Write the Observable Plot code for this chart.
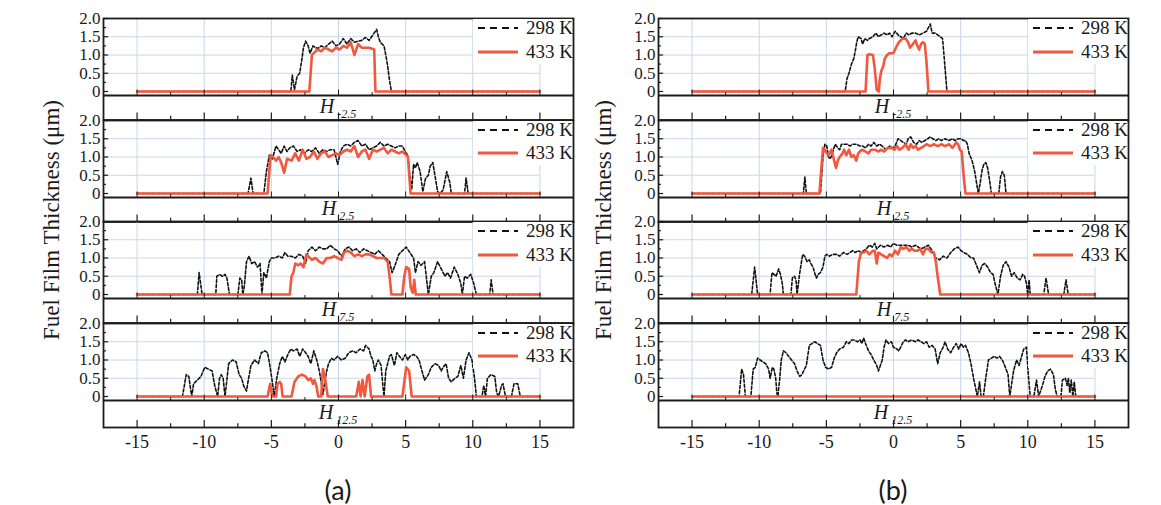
<!DOCTYPE html>
<html><head><meta charset="utf-8">
<script src="https://cdn.jsdelivr.net/npm/d3@7"></script>
<script src="https://cdn.jsdelivr.net/npm/@observablehq/plot@0.6"></script>
<style>
body{margin:0;background:#fff;}
#root{position:relative;width:1161px;height:505px;overflow:hidden;font-family:"Liberation Serif","Times New Roman","DejaVu Serif",serif;color:#1a1a1a;}
.abs{position:absolute;}
svg text{font-family:"Liberation Serif","Times New Roman","DejaVu Serif",serif !important;}
</style></head><body><div id="root"></div>
<script>
// ---------- DATA: [x position, fuel film thickness (µm)] ----------
// panel (a)
const a1_298 = [[-15,0],[-3.55,0],[-3.44,0.45],[-3.28,0.05],[-3.08,0.42],[-2.89,0.5],[-2.72,0.9],[-2.61,1.2],[-2.45,1.38],[-2.26,1.25],[-2.12,1.05],[-1.90,1.25],[-1.71,1.2],[-1.51,1.18],[-1.29,1.25],[-1.02,1.2],[-0.74,1.3],[-0.47,1.38],[-0.19,1.25],[0.08,1.3],[0.36,1.45],[0.63,1.3],[0.91,1.45],[1.18,1.35],[1.46,1.38],[1.73,1.4],[2.01,1.48],[2.28,1.4],[2.56,1.55],[2.84,1.7],[2.97,1.5],[3.11,1.35],[3.39,1.25],[3.52,1.0],[3.66,0.7],[3.80,0.3],[3.94,0],[15,0]];
const a1_433 = [[-15,0],[-2.17,0],[-1.98,1.0],[-1.84,1.05],[-1.57,1.15],[-1.29,1.1],[-1.02,1.2],[-0.74,1.15],[-0.47,1.1],[-0.19,1.2],[0.08,1.15],[0.36,1.25],[0.63,1.2],[0.91,1.35],[1.18,1.0],[1.46,1.3],[1.73,1.2],[2.28,1.2],[2.66,1.15],[2.75,0],[15,0]];
const a2_298 = [[-15,0],[-6.74,0],[-6.52,0.42],[-6.36,0],[-5.56,0],[-5.37,0.6],[-5.15,1.05],[-4.93,0.95],[-4.65,1.3],[-4.46,1.2],[-4.27,1.1],[-4.05,1.3],[-3.83,1.15],[-3.63,1.25],[-3.36,1.3],[-3.08,1.15],[-2.81,1.2],[-2.53,1.1],[-2.26,1.2],[-1.98,1.15],[-1.71,1.25],[-1.43,1.1],[-1.16,1.2],[-0.88,1.15],[-0.61,1.2],[-0.33,1.2],[-0.06,0.8],[0.14,1.15],[0.36,1.3],[0.63,1.35],[0.91,1.3],[1.18,1.4],[1.46,1.45],[1.73,1.3],[2.01,1.35],[2.28,1.2],[2.56,1.25],[2.84,1.3],[3.11,1.4],[3.39,1.3],[3.66,1.35],[3.94,1.3],[4.21,1.25],[4.49,1.3],[4.76,1.3],[5.04,1.1],[5.17,1.05],[5.31,0.5],[5.45,0.1],[5.59,0.8],[5.73,0.7],[5.86,0.85],[6.08,0.6],[6.28,0.05],[6.47,0.4],[6.69,0.5],[6.83,0.75],[7.02,0.85],[7.18,0.5],[7.38,0.05],[7.57,0],[7.79,0.1],[8.06,0.6],[8.29,0.3],[8.40,0],[9.39,0],[9.50,0.42],[9.66,0],[15,0]];
const a2_433 = [[-15,0],[-5.28,0],[-5.06,1.05],[-4.87,1.0],[-4.65,0.9],[-4.46,1.0],[-4.27,0.85],[-4.05,0.57],[-3.83,0.95],[-3.50,0.9],[-3.22,1.1],[-2.95,0.9],[-2.67,1.2],[-2.39,0.95],[-2.12,1.0],[-1.84,1.15],[-1.57,0.95],[-1.29,1.1],[-1.02,1.15],[-0.74,1.0],[-0.47,1.05],[-0.19,1.1],[0.08,1.05],[0.36,1.15],[0.63,1.2],[0.91,1.15],[1.18,1.3],[1.46,1.0],[1.73,1.15],[2.01,1.2],[2.28,0.95],[2.56,1.2],[2.84,1.15],[3.11,1.2],[3.39,1.25],[3.66,1.1],[3.94,1.2],[4.21,1.15],[4.49,1.1],[4.76,1.15],[5.04,1.05],[5.17,1.0],[5.37,0],[15,0]];
const a3_298 = [[-15,0],[-10.51,0],[-10.38,0.6],[-10.16,0],[-9.14,0],[-9.06,0.5],[-8.86,0.55],[-8.64,0.5],[-8.45,0.55],[-8.31,0.45],[-8.12,0],[-7.49,0],[-7.35,0.45],[-7.21,0.4],[-7.13,0],[-7.02,0.2],[-6.85,0.9],[-6.66,1.05],[-6.47,0.85],[-6.25,0.9],[-6.03,0.75],[-5.84,0.85],[-5.70,0],[-5.56,0.6],[-5.37,0.45],[-5.15,0.9],[-5.01,1.0],[-4.73,1.0],[-4.46,1.05],[-4.18,1.0],[-3.99,1.15],[-3.77,1.05],[-3.50,1.05],[-3.22,1.0],[-2.95,1.1],[-2.67,1.05],[-2.45,0.85],[-2.26,1.2],[-1.98,1.3],[-1.71,1.2],[-1.43,1.3],[-1.16,1.25],[-0.88,1.25],[-0.61,1.35],[-0.33,1.25],[-0.06,1.2],[0.22,1.05],[0.50,1.25],[0.77,1.3],[1.05,1.2],[1.32,1.25],[1.60,1.15],[1.87,1.25],[2.15,1.2],[2.42,1.15],[2.70,1.1],[2.97,1.2],[3.25,1.1],[3.52,1.0],[3.80,0.9],[3.99,0.6],[4.21,0.8],[4.49,1.1],[4.76,1.2],[5.04,1.3],[5.31,1.15],[5.59,1.0],[5.73,0.6],[5.92,0.9],[6.14,0.8],[6.41,0.9],[6.69,0],[6.91,0.5],[7.10,0.6],[7.38,0.9],[7.65,0.7],[7.93,0.5],[8.12,0.6],[8.34,0.45],[8.62,0.75],[8.89,0.55],[9.11,0.3],[9.22,0],[9.39,0.5],[9.58,0.45],[9.85,0.55],[10.07,0.3],[10.27,0],[11.26,0],[11.37,0.4],[11.51,0],[15,0]];
const a3_433 = [[-15,0],[-3.63,0],[-3.50,0.5],[-3.36,0.6],[-3.22,0.85],[-3.00,0.8],[-2.81,0.85],[-2.61,0.75],[-2.39,1.1],[-2.26,1.05],[-1.98,0.95],[-1.71,1.0],[-1.43,0.9],[-1.16,0.85],[-0.88,1.0],[-0.61,1.0],[-0.33,1.05],[-0.06,1.0],[0.22,0.95],[0.41,1.15],[0.63,1.2],[0.91,1.15],[1.18,1.05],[1.46,1.1],[1.73,1.05],[2.01,1.1],[2.28,1.1],[2.56,1.05],[2.84,1.0],[3.11,1.0],[3.39,1.0],[3.66,0.9],[3.80,0.5],[3.94,0],[4.76,0],[4.90,0.5],[5.04,0.75],[5.26,0.7],[5.37,0.2],[5.53,0.05],[5.64,0.4],[5.75,0],[15,0]];
const a4_298 = [[-15,0],[-11.62,0],[-11.34,0.6],[-11.15,0.55],[-10.93,0],[-10.79,0.35],[-10.51,0.45],[-10.24,0.55],[-9.96,0.8],[-9.69,0.75],[-9.41,0.7],[-9.22,0.3],[-9.00,0],[-8.86,0.5],[-8.73,0.6],[-8.59,0.5],[-8.45,0],[-8.18,0.9],[-7.90,1.0],[-7.62,0.95],[-7.40,0.6],[-7.21,0.5],[-7.07,0.3],[-6.85,0.15],[-6.74,0.4],[-6.52,0.85],[-6.25,1.0],[-5.97,0.9],[-5.75,1.2],[-5.48,1.25],[-5.28,1.2],[-5.09,0.8],[-4.93,0.4],[-4.79,0],[-4.60,0.5],[-4.38,0.9],[-4.18,1.1],[-3.99,0.95],[-3.77,1.15],[-3.55,1.3],[-3.36,1.25],[-3.08,1.3],[-2.89,1.1],[-2.67,1.3],[-2.45,1.2],[-2.26,1.1],[-2.06,0.9],[-1.84,1.25],[-1.62,1.0],[-1.43,0.7],[-1.29,0.4],[-1.16,0.05],[-1.02,0.4],[-0.88,0.7],[-0.74,0.9],[-0.52,1.05],[-0.33,1.0],[-0.06,1.1],[0.22,1.0],[0.50,1.05],[0.77,1.2],[1.05,1.25],[1.32,1.2],[1.60,1.3],[1.87,1.25],[2.01,1.4],[2.28,1.3],[2.42,1.1],[2.56,1.0],[2.70,0.7],[2.84,0.9],[2.97,1.0],[3.17,0.85],[3.33,0.2],[3.39,0],[3.52,0.7],[3.80,1.1],[3.94,1.15],[4.16,0.85],[4.35,1.2],[4.54,1.1],[4.76,1.0],[4.98,1.15],[5.17,1.0],[5.31,1.1],[5.59,1.15],[5.81,1.1],[6.00,1.0],[6.14,0.8],[6.41,0.45],[6.69,0.6],[6.91,0.8],[7.18,0.9],[7.46,0.85],[7.65,0.7],[7.79,0.8],[8.01,0.9],[8.20,0.5],[8.40,0.4],[8.67,0.5],[8.89,0.55],[9.11,0.85],[9.30,0.5],[9.50,1.0],[9.72,1.2],[9.94,1.0],[10.13,0.5],[10.27,0],[10.68,0],[10.82,0.3],[10.95,0],[11.09,0.5],[11.37,0.6],[11.64,0.55],[11.78,0.1],[11.92,0],[12.14,0.3],[12.25,0.35],[12.41,0.05],[12.55,0],[12.88,0],[13.07,0.35],[13.35,0.35],[13.51,0.05],[13.62,0],[15,0]];
const a4_433 = [[-15,0],[-5.28,0],[-5.09,0.35],[-4.93,0],[-4.65,0],[-4.54,0.35],[-4.38,0.4],[-4.27,0.35],[-4.16,0],[-3.50,0],[-3.28,0.4],[-3.00,0.55],[-2.72,0.6],[-2.45,0.55],[-2.26,0.45],[-2.06,0.5],[-1.90,0.35],[-1.79,0.45],[-1.65,0.3],[-1.51,0],[-1.29,0],[-1.16,0.75],[-1.02,0.55],[-0.80,0],[1.32,0],[1.51,0.4],[1.65,0],[1.79,0.45],[1.95,0],[2.15,0.55],[2.28,0.6],[2.42,0],[4.76,0],[5.04,0.8],[5.26,0.7],[5.45,0],[15,0]];
// panel (b)
const b1_298 = [[-15,0],[-3.60,0],[-3.46,0.35],[-3.32,0.5],[-3.13,0.75],[-2.96,0.9],[-2.85,1.1],[-2.74,1.35],[-2.63,1.5],[-2.41,1.45],[-2.30,1.3],[-2.14,1.45],[-1.94,1.4],[-1.80,1.45],[-1.53,1.5],[-1.31,1.6],[-1.12,1.5],[-0.92,1.55],[-0.70,1.6],[-0.48,1.55],[-0.29,1.6],[-0.10,1.5],[0.12,1.65],[0.34,1.55],[0.54,1.5],[0.73,1.45],[0.95,1.6],[1.17,1.55],[1.36,1.6],[1.64,1.6],[1.91,1.55],[2.19,1.6],[2.46,1.65],[2.60,1.75],[2.74,1.85],[2.88,1.6],[3.10,1.6],[3.29,1.55],[3.48,1.5],[3.65,1.45],[3.76,1.0],[3.87,0.5],[3.98,0],[15,0]];
const b1_433 = [[-15,0],[-2.08,0],[-1.94,1.0],[-1.80,1.02],[-1.53,1.0],[-1.39,0.6],[-1.25,0.05],[-1.09,0],[-1.03,0.3],[-0.92,0.55],[-0.76,0.7],[-0.65,0.9],[-0.48,1.0],[-0.29,1.05],[-0.01,1.05],[0.18,1.2],[0.40,1.35],[0.67,1.45],[0.90,1.45],[1.09,1.35],[1.23,1.2],[1.45,1.3],[1.64,1.4],[1.78,1.25],[1.91,1.15],[2.05,1.3],[2.19,1.35],[2.33,1.3],[2.46,0.8],[2.60,0],[15,0]];
const b2_298 = [[-15,0],[-6.71,0],[-6.60,0.45],[-6.49,0],[-5.44,0],[-5.25,1.0],[-5.11,1.35],[-4.97,1.3],[-4.84,1.0],[-4.70,0.95],[-4.56,1.1],[-4.34,1.35],[-4.15,1.25],[-4.01,1.2],[-3.87,1.35],[-3.68,1.35],[-3.46,1.35],[-3.24,1.3],[-3.04,1.35],[-2.77,1.35],[-2.49,1.3],[-2.30,1.3],[-2.08,1.25],[-1.86,1.35],[-1.67,1.3],[-1.47,1.4],[-1.25,1.3],[-1.03,1.35],[-0.84,1.3],[-0.56,1.2],[-0.29,1.3],[-0.01,1.25],[0.12,1.3],[0.34,1.5],[0.54,1.45],[0.73,1.4],[0.95,1.35],[1.09,1.5],[1.28,1.55],[1.50,1.4],[1.72,1.35],[1.91,1.45],[2.11,1.4],[2.33,1.45],[2.55,1.5],[2.74,1.55],[2.93,1.5],[3.15,1.45],[3.37,1.5],[3.57,1.45],[3.84,1.5],[4.12,1.45],[4.39,1.5],[4.59,1.45],[4.81,1.5],[5.03,1.5],[5.22,1.45],[5.36,1.45],[5.50,1.35],[5.63,1.1],[5.85,0.9],[6.05,0.6],[6.18,0.3],[6.32,0],[6.46,0.3],[6.60,0.65],[6.73,0.8],[6.87,0.85],[7.01,0.7],[7.18,0.3],[7.29,0],[7.84,0],[7.97,0.45],[8.11,0.6],[8.25,0.5],[8.38,0],[15,0]];
const b2_433 = [[-15,0],[-5.52,0],[-5.25,1.25],[-5.11,1.2],[-4.97,1.1],[-4.84,1.05],[-4.61,1.2],[-4.42,0.9],[-4.28,0.7],[-4.15,0.9],[-4.01,1.0],[-3.79,1.1],[-3.68,1.2],[-3.51,1.05],[-3.32,1.2],[-3.13,1.0],[-2.96,1.05],[-2.77,0.9],[-2.63,1.1],[-2.36,1.2],[-2.08,1.15],[-1.86,1.1],[-1.67,1.2],[-1.39,1.2],[-1.12,1.15],[-0.92,1.2],[-0.70,1.15],[-0.43,1.25],[-0.15,1.25],[0.07,1.2],[0.26,1.3],[0.45,1.2],[0.67,1.25],[0.90,1.35],[1.12,1.2],[1.28,1.35],[1.45,1.25],[1.64,1.3],[1.83,1.2],[2.05,1.25],[2.27,1.3],[2.46,1.35],[2.74,1.3],[3.01,1.35],[3.29,1.3],[3.57,1.35],[3.84,1.3],[4.12,1.35],[4.39,1.25],[4.67,1.4],[4.81,1.35],[4.94,1.2],[5.08,1.15],[5.22,0.5],[5.36,0],[15,0]];
const b3_298 = [[-15,0],[-10.56,0],[-10.34,0.75],[-10.12,0],[-9.19,0],[-9.05,0.6],[-8.91,0.55],[-8.75,0.5],[-8.55,0.7],[-8.42,0.55],[-8.28,0.3],[-8.20,0],[-7.64,0],[-7.53,0.45],[-7.37,0.5],[-7.26,0.4],[-7.18,0],[-6.98,0.6],[-6.76,1.1],[-6.62,1.05],[-6.43,0.9],[-6.27,0.95],[-6.16,0.85],[-5.99,0.75],[-5.88,0.6],[-5.74,0.45],[-5.61,0.55],[-5.44,0.6],[-5.25,0.75],[-5.11,1.05],[-4.97,1.1],[-4.78,1.05],[-4.50,1.1],[-4.23,1.1],[-4.01,1.05],[-3.73,1.15],[-3.46,1.1],[-3.24,1.15],[-3.04,1.2],[-2.85,1.15],[-2.63,1.2],[-2.41,1.15],[-2.22,1.2],[-2.02,1.25],[-1.80,1.35],[-1.58,1.3],[-1.39,1.4],[-1.25,1.25],[-0.98,1.35],[-0.70,1.3],[-0.43,1.35],[-0.21,1.3],[-0.01,1.4],[0.26,1.35],[0.54,1.35],[0.81,1.35],[1.09,1.35],[1.36,1.3],[1.64,1.35],[1.83,1.3],[2.05,1.25],[2.33,1.3],[2.60,1.35],[2.88,1.2],[3.15,1.0],[3.43,0.95],[3.70,1.05],[3.98,1.0],[4.26,1.15],[4.53,1.25],[4.81,1.3],[5.03,1.2],[5.22,1.15],[5.50,1.1],[5.77,1.0],[5.96,1.0],[6.18,0.8],[6.40,0.6],[6.60,0.8],[6.79,0.85],[7.01,0.75],[7.23,0.6],[7.42,0.55],[7.56,0.3],[7.78,0],[7.97,0.5],[8.17,0.8],[8.38,0.9],[8.60,0.75],[8.80,0.5],[8.99,0.6],[9.21,0.45],[9.43,0.4],[9.62,0.55],[9.76,0.5],[9.90,0.3],[9.99,0],[10.10,0.4],[10.18,0],[11.19,0],[11.36,0.45],[11.55,0],[12.68,0],[12.85,0.4],[13.01,0],[15,0]];
const b3_433 = [[-15,0],[-2.77,0],[-2.58,0.9],[-2.41,1.15],[-2.22,1.15],[-2.02,1.2],[-1.80,1.1],[-1.53,1.2],[-1.39,1.2],[-1.25,0.85],[-1.12,1.15],[-0.92,1.1],[-0.70,1.05],[-0.48,1.0],[-0.29,1.1],[-0.10,1.05],[0.12,1.2],[0.34,1.1],[0.54,1.3],[0.73,1.25],[0.95,1.3],[1.17,1.2],[1.36,1.25],[1.56,1.2],[1.78,1.2],[2.00,1.25],[2.19,1.1],[2.38,1.25],[2.60,1.25],[2.82,1.15],[3.01,1.15],[3.15,0.9],[3.29,0.5],[3.48,0],[15,0]];
const b4_298 = [[-15,0],[-11.50,0],[-11.31,0.75],[-11.17,0.6],[-11.03,0],[-10.62,0],[-10.45,0.75],[-10.29,0.8],[-10.12,1.05],[-9.93,1.0],[-9.74,0.95],[-9.52,0.9],[-9.30,0.75],[-9.19,0.5],[-9.02,0.8],[-8.91,0.75],[-8.77,0.5],[-8.69,0.1],[-8.61,0],[-8.47,0.5],[-8.36,1.0],[-8.20,1.25],[-8.00,1.2],[-7.81,1.1],[-7.59,1.0],[-7.37,0.9],[-7.18,0.7],[-6.98,0.55],[-6.82,0.6],[-6.63,0.75],[-6.49,0.85],[-6.27,1.4],[-6.07,1.45],[-5.88,1.5],[-5.66,1.45],[-5.44,1.4],[-5.25,1.0],[-5.06,0.8],[-4.83,0.75],[-4.61,0.8],[-4.42,1.05],[-4.23,1.2],[-4.01,1.3],[-3.73,1.35],[-3.51,1.5],[-3.32,1.45],[-3.13,1.55],[-2.91,1.55],[-2.69,1.5],[-2.49,1.55],[-2.36,1.45],[-2.22,1.6],[-2.08,1.45],[-1.86,1.25],[-1.67,1.15],[-1.47,1.0],[-1.25,0.85],[-1.12,0.7],[-0.98,0.85],[-0.84,1.0],[-0.70,1.35],[-0.56,1.55],[-0.37,1.45],[-0.15,1.5],[-0.01,1.35],[0.26,1.3],[0.40,1.25],[0.73,1.5],[0.90,1.55],[1.09,1.5],[1.36,1.55],[1.64,1.5],[1.83,1.55],[2.05,1.5],[2.27,1.45],[2.46,1.5],[2.66,1.35],[2.88,1.4],[3.10,1.3],[3.29,0.9],[3.48,1.2],[3.70,1.35],[3.84,1.5],[4.03,1.3],[4.26,1.2],[4.48,1.35],[4.67,1.45],[4.86,1.3],[5.03,1.45],[5.22,1.35],[5.36,1.4],[5.58,1.2],[5.77,0.9],[5.96,0.5],[6.13,0.2],[6.24,0],[6.41,0.4],[6.52,0],[6.69,0],[6.87,0.5],[7.07,1.0],[7.29,1.05],[7.51,1.1],[7.70,1.05],[7.89,1.1],[8.11,1.0],[8.33,0.8],[8.53,0.6],[8.66,0],[8.80,0.35],[8.94,0.7],[9.16,1.0],[9.35,0.85],[9.54,1.1],[9.70,1.3],[9.90,1.35],[10.04,0.6],[10.18,0],[10.45,0],[10.65,0.45],[10.81,0],[11.09,0.3],[11.28,0.55],[11.48,0.7],[11.69,0.75],[11.91,0.6],[12.05,0.2],[12.19,0],[12.47,0],[12.58,0.45],[12.80,0.5],[12.93,0.3],[13.02,0.5],[13.13,0.1],[13.24,0.45],[13.35,0],[13.46,0.4],[13.57,0],[15,0]];
const b4_433 = [[-15,0],[15,0]];

const stations = ["-2.5","2.5","7.5","12.5"];
const seriesNames = ["298 K","433 K"];
const panelNames = ["(a)","(b)"];
const yTitle = "Fuel Film Thickness (μm)";
const xTicks = [-15,-10,-5,0,5,10,15];
const xMinor = [-12.5,-7.5,-2.5,2.5,7.5,12.5];
const yTicks = [0,0.5,1,1.5,2];
const yMinor = [0.25,0.75,1.25,1.75];
const xDomain = [-17.5,17.5];

const panels = [
  [[a1_298,a1_433],[a2_298,a2_433],[a3_298,a3_433],[a4_298,a4_433]],
  [[b1_298,b1_433],[b2_298,b2_433],[b3_298,b3_433],[b4_298,b4_433]]
];

// ---------- LAYOUT / STYLE ----------
const SERIF = '"Liberation Serif","Times New Roman","DejaVu Serif",serif';
const RED = "#f2583e", BLACK = "#111", GRID = "#c9d6ea", FRAME = "#1c1c1c";
const FW = 470, ML = 50, MR = 3, MT = 3;
const PXU = 36.5;                 // px per µm
const panelLeft = [103, 658];
const blockTop = [18, 119.5, 221, 322.5];
const blockH = [101.5, 101.5, 101.5, 104];
const floorV = -4 / PXU;

const root = document.getElementById("root");
function addDiv(style, html){
  const d = document.createElement("div");
  d.className = "abs";
  Object.assign(d.style, style);
  if (html != null) d.innerHTML = html;
  root.appendChild(d);
  return d;
}
const fmtY = d => d === 0 ? "0" : d.toFixed(1);

panels.forEach((blocks, p) => {
  blocks.forEach(([k298, k433], i) => {
    const innerH = blockH[i];
    const yMin = 2 - innerH / PXU;
    const last = i === 3;
    const MB = last ? 36 : 3;
    const marks = [
      Plot.ruleY([0.5,1,1.5], {x1: xDomain[0], x2: 15, stroke: GRID, strokeWidth: 1}),
      Plot.ruleX(xTicks, {y1: 0, y2: 2, stroke: GRID, strokeWidth: 1}),
      Plot.line(k298, {x: d => d[0], y: d => d[1], stroke: BLACK, strokeWidth: 1.6, strokeDasharray: "3,2"}),
      Plot.line(k433, {x: d => d[0], y: d => d[1], stroke: RED, strokeWidth: 2.6}),
      Plot.ruleY([floorV], {stroke: FRAME, strokeWidth: 1.8}),
      Plot.ruleX(xTicks, {y1: floorV, y2: floorV + 0.15, stroke: FRAME, strokeWidth: 1}),
      Plot.ruleX(xMinor, {y1: floorV, y2: floorV + 0.08, stroke: FRAME, strokeWidth: 1}),
      Plot.ruleX(xTicks, {y1: yMin, y2: yMin + 0.19, stroke: FRAME, strokeWidth: 1.2}),
      Plot.ruleX(xMinor, {y1: yMin, y2: yMin + 0.1, stroke: FRAME, strokeWidth: 1.2}),
      Plot.ruleY(yTicks, {x1: xDomain[0], x2: xDomain[0] + 0.38, stroke: FRAME, strokeWidth: 1.2}),
      Plot.ruleY(yMinor, {x1: xDomain[0], x2: xDomain[0] + 0.22, stroke: FRAME, strokeWidth: 1.2}),
      Plot.axisY(yTicks, {tickSize: 0, tickPadding: 3, tickFormat: fmtY, label: null, fontSize: 17, fontFamily: SERIF}),
      Plot.frame({stroke: FRAME, strokeWidth: 1.8})
    ];
    if (last) marks.push(Plot.axisX(xTicks, {anchor: "bottom", tickSize: 0, tickPadding: 8, tickFormat: d => String(d), label: null, fontSize: 18, fontFamily: SERIF}));
    const chart = Plot.plot({
      width: ML + FW + MR,
      height: MT + innerH + MB,
      marginLeft: ML, marginRight: MR, marginTop: MT, marginBottom: MB,
      style: {background: "transparent", fontFamily: SERIF, fontSize: "17px", color: "#1a1a1a", overflow: "visible"},
      x: last ? {domain: xDomain} : {domain: xDomain, axis: null},
      y: {domain: [yMin, 2], axis: null},
      marks
    });
    const svgL = panelLeft[p] - ML, svgT = blockTop[i] - MT;
    chart.style.position = "absolute";
    chart.style.left = svgL + "px";
    chart.style.top = svgT + "px";
    root.appendChild(chart);

    const xs = chart.scale("x"), ys = chart.scale("y");
    addDiv({left: (svgL + xs.apply(0)) + "px", top: (svgT + ys.apply((floorV + yMin) / 2) - 1) + "px",
      transform: "translate(-50%,-50%)", whiteSpace: "nowrap", lineHeight: "1", fontStyle: "italic", fontFamily: SERIF},
      `<span style="font-size:20px">H</span><span style="font-size:12px;position:relative;top:5px;margin-left:3px">${stations[i]}</span>`);
    const bl = svgL + xs.apply(10) + 1, br = svgL + xs.apply(17.5) - 1;
    const bt = svgT + ys.apply(2) + 1, bb = svgT + ys.apply(0.74);
    addDiv({left: bl + "px", top: bt + "px", width: (br - bl) + "px", height: (bb - bt) + "px", background: "#fff"});
    const rows = [[1.72, BLACK, "7,5", 1.8], [1.07, RED, null, 2.8]];
    rows.forEach(([v, col, dash, sw], r) => {
      const cy = svgT + ys.apply(v);
      addDiv({left: bl + "px", width: (br - bl + 1) + "px", top: (cy - 11) + "px", height: "22px",
        display: "flex", alignItems: "center", justifyContent: "flex-end", fontSize: "19px", whiteSpace: "nowrap", fontFamily: SERIF},
        `<svg width="40" height="6" style="display:block"><line x1="0" x2="40" y1="3" y2="3" stroke="${col}" stroke-width="${sw}" ${dash ? `stroke-dasharray="${dash}"` : ""}/></svg><span style="margin-left:8px">${seriesNames[r]}</span>`);
    });
  });
  addDiv({left: (p === 0 ? 52 : 604) + "px", top: "220px", transform: "translate(-50%,-50%) rotate(-90deg)",
    whiteSpace: "nowrap", fontSize: "23px", fontFamily: SERIF}, yTitle);
  addDiv({left: (panelLeft[p] + FW / 2) + "px", top: "489px", transform: "translate(-50%,-50%)",
    fontFamily: "Lato, 'Open Sans', sans-serif", fontSize: "27px"}, panelNames[p]);
});
</script>
</body></html>
